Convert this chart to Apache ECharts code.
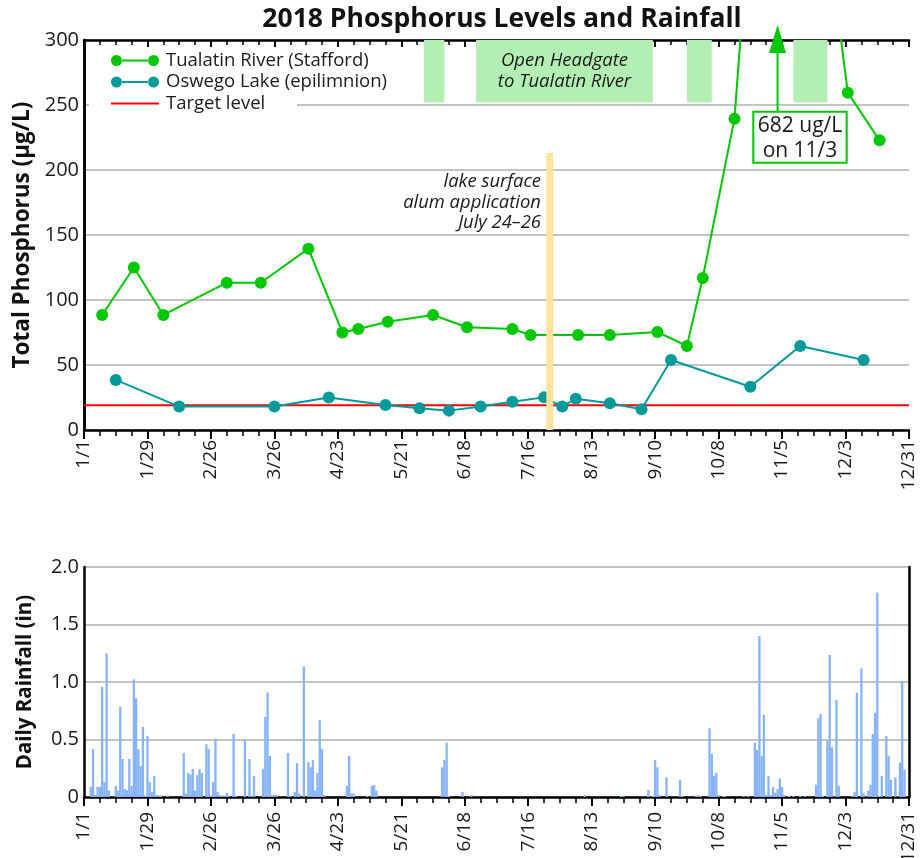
<!DOCTYPE html>
<html><head><meta charset="utf-8">
<script src="https://cdn.jsdelivr.net/npm/echarts@6/dist/echarts.min.js"></script>
<style>html,body{margin:0;padding:0;background:#fff}#c{width:922px;height:858px}</style>
</head><body><div id="c"></div>
<script>
// ---------- DATA ----------
const tickLabels = ['1/1','1/29','2/26','3/26','4/23','5/21','6/18','7/16','8/13','9/10','10/8','11/5','12/3','12/31'];
const phosTicks = [0,50,100,150,200,250,300];
const rainTicks = [0,0.5,1.0,1.5,2.0];

const tualatinDates  = ['1/9','1/23','2/5','3/5','3/20','4/10','4/25','5/2','5/15','6/4','6/19','7/9','7/17','8/7','8/21','9/11','9/24','10/1','10/15','11/3','12/4','12/18'];
const tualatinValues = [88.5,125,88.5,113.3,113.3,139.5,75,77.7,83.3,88.5,79,77.7,73,73,73,75.4,64.6,117,239.5,682,259.5,222.8];

const oswegoDates  = ['1/15','2/12','3/26','4/19','5/14','5/29','6/11','6/25','7/9','7/23','7/31','8/6','8/21','9/4','9/17','10/22','11/13','12/11'];
const oswegoValues = [38.5,18,18,25,19.2,16.7,14.9,18,21.8,25.1,18,24.1,20.5,15.9,53.8,33.3,64.6,53.8];

const targetLevel = 19;
const headgateStart = ['5/31','6/23','9/24','11/10'];
const headgateEnd   = ['6/8','9/8','10/4','11/24'];
const alumStart = '7/24', alumEnd = '7/26';
const peak = {date:'11/3', value:682};

// daily rainfall: [day of year (0 = 1/1), inches]; days not listed had no rain
const rainfall = [[3,0.087],[4,0.417],[5,0.017],[6,0.087],[7,0.087],[8,0.957],[9,0.13],[10,1.249],[11,0.055],[14,0.096],[15,0.055],[16,0.783],[17,0.33],[18,0.07],[19,0.058],[20,0.33],[21,0.096],[22,1.023],[23,0.858],[24,0.417],[25,0.27],[26,0.609],[27,0.012],[28,0.53],[29,0.13],[30,0.043],[31,0.183],[32,0.017],[33,0.012],[34,0.012],[37,0.012],
[44,0.383],[45,0.03],[46,0.209],[47,0.194],[48,0.243],[49,0.055],[50,0.19],[51,0.243],[52,0.209],[54,0.458],[55,0.417],[56,0.012],[57,0.13],[58,0.507],[59,0.043],[60,0.017],[61,0.012],[62,0.012],[63,0.035],[64,0.012],[66,0.548],[67,0.012],[71,0.496],[73,0.33],[74,0.012],[75,0.183],[79,0.243],[80,0.696],[81,0.91],[82,0.357],[83,0.017],[84,0.017],[85,0.017],[90,0.383],[91,0.012],[93,0.043],[94,0.296],[95,0.03],[97,1.133],[99,0.304],[100,0.258],[101,0.32],[102,0.055],[103,0.209],[104,0.67],[105,0.417],[106,0.017],[116,0.096],[117,0.357],[118,0.03],[119,0.03],[125,0.01],[127,0.096],[128,0.104],[129,0.055],
[158,0.258],[159,0.322],[160,0.472],[161,0.01],[167,0.043],[171,0.017],[221,0.017],[237,0.01],[238,0.01],[249,0.061],[251,0.01],[252,0.322],[253,0.258],[254,0.017],[257,0.171],[263,0.148],[264,0.009],[270,0.009],[271,0.017],[272,0.009],[276,0.597],[277,0.374],[278,0.183],[279,0.209],[280,0.017],[282,0.009],[283,0.009],[291,0.01],[293,0.01],
[296,0.472],[297,0.409],[298,1.4],[299,0.357],[300,0.713],[301,0.017],[302,0.183],[303,0.017],[304,0.087],[305,0.038],[306,0.07],[307,0.16],[308,0.087],[309,0.017],[311,0.01],[313,0.01],[316,0.01],[318,0.01],[323,0.107],[324,0.684],[325,0.722],[326,0.01],[328,0.49],[329,1.235],[330,0.432],[332,0.843],[333,0.096],[339,0.009],[340,0.043],[341,0.907],[343,1.119],[344,0.032],[346,0.055],[347,0.107],[348,0.548],[349,0.733],[350,1.777],[351,0.009],[352,0.183],[354,0.53],[355,0.357],[356,0.148],[358,0.171],[360,0.299],[361,1.009],[362,0.241]];

// ---------- HELPERS ----------
const monthLens=[31,28,31,30,31,30,31,31,30,31,30,31];
function dayOf(md){const p=md.split('/').map(Number);let s=0;for(let i=0;i<p[0]-1;i++)s+=monthLens[i];return s+p[1]-1;}
const FONT = 'Open Sans';
const TXT = '#1a1a1a';
const GREEN = '#00c800', TEAL = '#009a9a', RED = '#ff0000', RAIN = '#86b3fb';

const tualatin = tualatinDates.map((d,i)=>[dayOf(d), tualatinValues[i]]);
const oswego = oswegoDates.map((d,i)=>[dayOf(d), oswegoValues[i]]);
const bands = headgateStart.map((s,i)=>{
  const item = [{xAxis: dayOf(s), yAxis: 252}, {xAxis: dayOf(headgateEnd[i]) + 1, yAxis: 300}];
  if (i === 1) item[0].label = {show:true, position:'inside', formatter:'Open Headgate\nto Tualatin River',
     fontStyle:'italic', fontFamily:FONT, fontSize:18.5, lineHeight:21, color:TXT};
  return item;
});

function xAxisBase(grid, margin){
  return {type:'value', gridIndex:grid, min:0, max:364, interval:28,
    axisLine:{show:true, onZero:false, lineStyle:{color:'#000', width:2.5}},
    axisTick:{show:true, length:9, lineStyle:{color:'#000', width:2}},
    minorTick:{show:true, splitNumber:4, length:6, lineStyle:{color:'#000', width:1.5}},
    splitLine:{show:false}, minorSplitLine:{show:false},
    axisLabel:{rotate:90, fontFamily:FONT, fontSize:19, color:TXT, margin:margin,
      formatter:v => (v % 28 === 0 ? tickLabels[v/28] : '')}};
}

const legendDot = 'path://M0,5.5a5.5,5.5 0 1,0 11,0a5.5,5.5 0 1,0 -11,0Z M37,5.5a5.5,5.5 0 1,0 11,0a5.5,5.5 0 1,0 -11,0Z M10.5,4.5L37.5,4.5L37.5,6.5L10.5,6.5Z';
const legendLine = 'path://M0,0L0.01,0L0.01,0.01Z M0,11L0.01,11L0.01,10.99Z M0,4.5L48,4.5L48,6.5L0,6.5Z';

const chart = echarts.init(document.getElementById('c'), null, {renderer:'canvas'});
const option = {
  animation:false,
  backgroundColor:'#fff',
  textStyle:{fontFamily:FONT},
  title:{text:'2018 Phosphorus Levels and Rainfall', left:497, top:1, textAlign:'center',
    textStyle:{fontFamily:FONT, fontWeight:'bold', fontSize:26.5, color:'#111'}},
  grid:[{left:84, top:40, width:825, height:390, outerBoundsMode:'none', containLabel:false},
        {left:84, top:567, width:825, height:230, outerBoundsMode:'none', containLabel:false}],
  legend:{orient:'vertical', left:106, top:46, itemWidth:48, itemHeight:11, itemGap:2.5,
    textStyle:{fontFamily:FONT, fontSize:18.5, color:TXT, padding:[0,0,0,2]},
    itemStyle:{borderWidth:0},
    data:[{name:'Tualatin River (Stafford)', icon:legendDot},
          {name:'Oswego Lake (epilimnion)', icon:legendDot},
          {name:'Target level', icon:legendLine}]},
  xAxis:[
    xAxisBase(0, 10),
    Object.assign(xAxisBase(0, 10), {position:'top', axisLabel:{show:false},
      axisTick:{show:true, inside:true, length:7, lineStyle:{color:'#000', width:2}},
      minorTick:{show:true, splitNumber:4, length:5, lineStyle:{color:'#000', width:1.5}}}),
    xAxisBase(1, 15)
  ],
  yAxis:[
    {type:'value', gridIndex:0, min:0, max:300, interval:50,
      name:'Total Phosphorus (µg/L)', nameLocation:'middle', nameGap:48, nameRotate:90,
      nameTextStyle:{fontFamily:FONT, fontWeight:'bold', fontSize:22.5, color:'#111'},
      axisLine:{show:true, lineStyle:{color:'#000', width:2.5}}, axisTick:{show:false},
      axisLabel:{fontFamily:FONT, fontSize:20, color:TXT, margin:5,
        formatter:v => (phosTicks.indexOf(v) >= 0 ? String(v) : '')},
      splitLine:{show:true, lineStyle:{color:'#b0b0b0', width:1.5}}},
    {type:'value', gridIndex:0, min:0, max:300, position:'right',
      axisLine:{show:true, lineStyle:{color:'#000', width:2.5}}, axisTick:{show:false},
      axisLabel:{show:false}, splitLine:{show:false}},
    {type:'value', gridIndex:1, min:0, max:2, interval:0.5,
      name:'Daily Rainfall (in)', nameLocation:'middle', nameGap:48, nameRotate:90,
      nameTextStyle:{fontFamily:FONT, fontWeight:'bold', fontSize:20.5, color:'#111'},
      axisLine:{show:true, lineStyle:{color:'#000', width:2.5}}, axisTick:{show:false},
      axisLabel:{fontFamily:FONT, fontSize:20, color:TXT, margin:5,
        formatter:v => { const t = rainTicks.find(r => Math.abs(r - v) < 1e-9); return t === undefined ? '' : (t === 0 ? '0' : t.toFixed(1)); }},
      splitLine:{show:true, lineStyle:{color:'#b0b0b0', width:1.5}}},
    {type:'value', gridIndex:1, min:0, max:2, position:'right',
      axisLine:{show:true, lineStyle:{color:'#000', width:2.5}}, axisTick:{show:false},
      axisLabel:{show:false}, splitLine:{show:false}}
  ],
  series:[
    {name:'Target level', type:'line', xAxisIndex:0, yAxisIndex:0, data:[[0,targetLevel],[364,targetLevel]],
      symbol:'none', lineStyle:{color:RED, width:2}, itemStyle:{color:RED}, z:2,
      markArea:{silent:true, itemStyle:{color:'#b3efb3'}, label:{show:false}, data:bands}},
    {name:'Tualatin River (Stafford)', type:'line', xAxisIndex:0, yAxisIndex:0, data:tualatin, clip:true,
      symbol:'circle', symbolSize:12, lineStyle:{color:GREEN, width:2}, itemStyle:{color:GREEN, borderWidth:0}, z:3},
    {name:'Oswego Lake (epilimnion)', type:'line', xAxisIndex:0, yAxisIndex:0, data:oswego, clip:true,
      symbol:'circle', symbolSize:12, lineStyle:{color:TEAL, width:2}, itemStyle:{color:TEAL, borderWidth:0}, z:3},
    {name:'alum', type:'line', xAxisIndex:0, yAxisIndex:0, data:[], z:6,
      markArea:{silent:true, z:6, itemStyle:{color:'#ffe39c'},
        data:[[{xAxis:dayOf(alumStart), yAxis:0},{xAxis:dayOf(alumEnd)+1, yAxis:213}]]}},
    {name:'Daily rainfall', type:'bar', xAxisIndex:2, yAxisIndex:2, data:rainfall,
      barWidth:2.3, itemStyle:{color:RAIN}, z:2}
  ]
};
chart.setOption(option);

// annotation graphics placed through the axis scales
const P = (x,y) => chart.convertToPixel({gridIndex:0}, [x,y]);
const pk = dayOf(peak.date);
const shaftBottom = P(pk, 245), headBase = P(pk, 290), tip = P(pk, 311.5);
const boxTL = P(295.3, 244.8), boxBR = P(336.5, 205.6);
const txtAlum = P(201.6, 175);
const gridPx = P(0, 250);
chart.setOption({graphic:[
  {type:'rect', z:1, silent:true, shape:{x:gridPx[0]+5, y:gridPx[1]-9, width:208, height:18}, style:{fill:'#fff'}},
  {type:'line', z:10, shape:{x1:shaftBottom[0], y1:shaftBottom[1], x2:headBase[0], y2:headBase[1]}, style:{stroke:GREEN, lineWidth:2}},
  {type:'polygon', z:10, shape:{points:[[tip[0],tip[1]],[headBase[0]-8.5,headBase[1]],[headBase[0]+8.5,headBase[1]]]}, style:{fill:GREEN}},
  {type:'rect', z:10, shape:{x:boxTL[0], y:boxTL[1], width:boxBR[0]-boxTL[0], height:boxBR[1]-boxTL[1]}, style:{fill:'#fff', stroke:GREEN, lineWidth:2}},
  {type:'text', z:11, x:(boxTL[0]+boxBR[0])/2, y:(boxTL[1]+boxBR[1])/2 + 1,
    style:{text: peak.value + ' ug/L\non ' + peak.date, align:'center', verticalAlign:'middle', fontFamily:FONT, fontSize:21, lineHeight:25, fill:TXT}},
  {type:'text', z:11, x:txtAlum[0], y:txtAlum[1],
    style:{text:'lake surface\nalum application\nJuly 24–26', align:'right', verticalAlign:'middle', fontFamily:FONT, fontStyle:'italic', fontSize:18.4, lineHeight:20.5, fill:TXT}}
]});
</script></body></html>
